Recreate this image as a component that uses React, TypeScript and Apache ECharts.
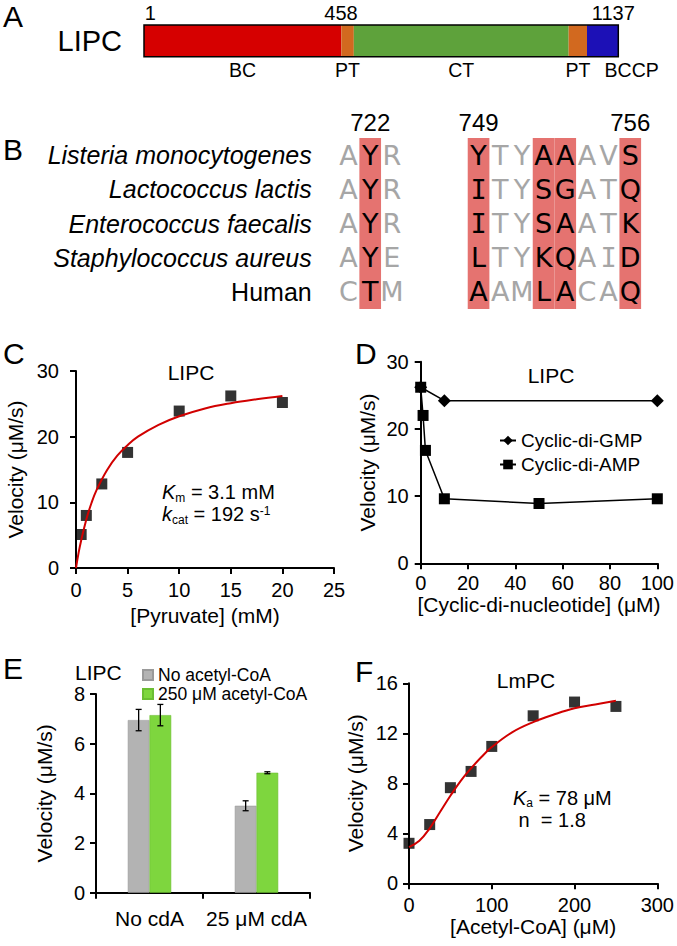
import React, { useEffect, useRef } from "react";
import * as echarts from "echarts";

const FONT = "'Liberation Sans', Arial, Helvetica, sans-serif";

// ---------- Panel A: domain architecture ----------
const proteinName = "LIPC";
const domainNames = ["BC", "PT", "CT", "PT", "BCCP"];
const domainEnds = [473, 503, 1018, 1062, 1137];
const domainColors = ["#D60000", "#D2691F", "#5EA23B", "#D2691F", "#1C10B6"];
const residueMarks = [1, 458, 1137];

// ---------- Panel B: alignment ----------
const speciesNames = [
  "Listeria monocytogenes",
  "Lactococcus lactis",
  "Enterococcus faecalis",
  "Staphylococcus aureus",
  "Human",
];
const speciesItalic = [true, true, true, true, false];
const motif1 = ["AYR", "AYR", "AYR", "AYE", "CTM"];
const motif2 = ["YTYAAAVS", "ITYSGATQ", "ITYSAATK", "LTYKQAID", "AAMLACAQ"];
const motif1First = 721;
const motif2First = 749;
const motif1Conserved = [1];
const motif2Conserved = [0, 3, 4, 7];
const labelledResidues = [722, 749, 756];

// ---------- Panel C ----------
const pyruvateMM = [0.5, 1, 2.5, 5, 10, 15, 20];
const velocityPyruvate = [5.1, 8.0, 12.8, 17.6, 23.9, 26.2, 25.2];
const pyruvateFitX = [0, 0.25, 0.5, 1, 1.5, 2, 3, 4, 5, 6, 8, 10, 12.5, 15, 17.5, 20];
const pyruvateFitY = [0, 2.3, 4.2, 7.4, 9.9, 11.9, 14.9, 17.1, 18.7, 20.0, 21.8, 23.1, 24.3, 25.1, 25.7, 26.2];

// ---------- Panel D ----------
const cdgConc = [0, 10, 100];
const cdgVelocity = [26.2, 24.2, 24.2];
const cdaConc = [0, 1, 2, 10, 50, 100];
const cdaVelocity = [26.2, 22.0, 16.8, 9.6, 8.9, 9.6];

// ---------- Panel E ----------
const conditions = ["No cdA", "25 μM cdA"];
const noAcetylCoA = [6.95, 3.5];
const noAcetylCoAErr = [0.43, 0.2];
const withAcetylCoA = [7.15, 4.83];
const withAcetylCoAErr = [0.43, 0.04];

// ---------- Panel F ----------
const acetylCoAuM = [0, 25, 50, 75, 100, 150, 200, 250];
const velocityAcetylCoA = [3.2, 4.7, 7.65, 8.95, 10.95, 13.4, 14.5, 14.15];
const acetylFitX = [0, 12.5, 25, 37.5, 50, 62.5, 75, 87.5, 100, 125, 150, 175, 200, 225, 250];
const acetylFitY = [2.9, 3.4, 4.4, 5.7, 7.0, 8.2, 9.2, 10.1, 10.9, 12.1, 12.9, 13.5, 14.0, 14.3, 14.6];

const zip = (a: number[], b: number[]) => a.map((v, i) => [v, b[i]]);

function buildOption() {
  // ---- Panel B derived layout ----
  const GAP_COLS = 3;
  const len1 = motif1[0].length;
  const nCols = len1 + GAP_COLS + motif2[0].length;
  const col1 = (i: number) => i;
  const col2 = (i: number) => len1 + GAP_COLS + i;
  const hl = new Set<number>([...motif1Conserved.map(col1), ...motif2Conserved.map(col2)]);
  const colLabels: string[] = new Array(nCols).fill("");
  labelledResidues.forEach((r) => {
    if (r - motif1First >= 0 && r - motif1First < len1) colLabels[col1(r - motif1First)] = String(r);
    else colLabels[col2(r - motif2First)] = String(r);
  });
  const colIds = colLabels.map((_, i) => "c" + i);
  const letterData: any[] = [];
  speciesNames.forEach((_, row) => {
    const seq = motif1[row] + " ".repeat(GAP_COLS) + motif2[row];
    seq.split("").forEach((ch, col) => {
      if (ch === " ") return;
      letterData.push({
        value: [col, row],
        label: {
          formatter: ch,
          color: hl.has(col) ? "#000" : "#A6A6A6",
          fontFamily: ch === "I" ? "DejaVu Sans Mono" : "DejaVu Sans",
        },
      });
    });
  });
  const hlData = colIds.map((_, i) => (hl.has(i) ? 1 : "-"));

  const axisBase = (labelMargin: number) => ({
    axisLine: { show: true, onZero: false, lineStyle: { color: "#000", width: 2 } },
    axisTick: { show: true, length: 6, lineStyle: { color: "#000", width: 2 } },
    axisLabel: { color: "#000", fontSize: 20, fontFamily: FONT, margin: labelMargin },
    splitLine: { show: false },
    nameLocation: "middle",
    nameTextStyle: { color: "#000", fontSize: 21, fontFamily: FONT },
  });

  const txt = (text: string, x: number, y: number, size: number, o: any = {}) => ({
    type: "text",
    x,
    y,
    silent: true,
    style: {
      text,
      fontSize: size,
      fontFamily: o.family || FONT,
      fontStyle: o.italic ? "italic" : "normal",
      fill: "#000",
      align: o.align || "left",
      verticalAlign: "middle",
    },
  });

  // two-line rich text with italic symbol, subscript and superscript
  const richRules = (lh: number) => ({
    it: { fontSize: 20, fontStyle: "italic", fontFamily: FONT, color: "#000", lineHeight: lh },
    sub: { fontSize: 12, fontFamily: FONT, color: "#000", padding: [12, 0, 0, 0], lineHeight: lh },
    sub2: { fontSize: 12, fontFamily: FONT, color: "#000", padding: [10, 0, 0, 0], lineHeight: lh },
    sup: { fontSize: 12, fontFamily: FONT, color: "#000", padding: [0, 0, 6, 0], lineHeight: lh },
    t: { fontSize: 20, fontFamily: FONT, color: "#000", lineHeight: lh },
  });
  const rtxt = (text: string, x: number, y: number, lh: number) => ({
    type: "text",
    x,
    y,
    silent: true,
    style: {
      text,
      rich: richRules(lh),
      fontSize: 20,
      lineHeight: lh,
      fontFamily: FONT,
      fill: "#000",
      align: "left",
      verticalAlign: "middle",
    },
  });

  const markOffsets = [[6, 0], [6, 0], [-5, 0]];

  const domainSeries = domainNames.map((name, i) => ({
    type: "bar",
    name: "dom" + i,
    xAxisIndex: 0,
    yAxisIndex: 0,
    stack: "domains",
    barWidth: "100%",
    silent: true,
    data: [domainEnds[i] - (i ? domainEnds[i - 1] : 0)],
    itemStyle: { color: domainColors[i] },
    label: {
      show: true,
      position: "bottom",
      distance: 3,
      formatter: name,
      color: "#000",
      fontSize: 19.5,
      fontFamily: FONT,
      offset: i === domainNames.length - 1 ? [29, 0] : [0, 0],
    },
  }));

  const barW = 21.7;
  const errSeries = (vals: number[], errs: number[], side: number) => ({
    type: "custom",
    xAxisIndex: 4,
    yAxisIndex: 5,
    silent: true,
    z: 5,
    data: vals.map((v, i) => [i, v, errs[i]]),
    renderItem: (params: any, api: any) => {
      const cat = api.value(0);
      const v = api.value(1);
      const e = api.value(2);
      const hi = api.coord([cat, v + e]);
      const lo = api.coord([cat, v - e]);
      const x = hi[0] + (side * barW) / 2;
      const st = { stroke: "#000", lineWidth: 1.3 };
      return {
        type: "group",
        children: [
          { type: "line", shape: { x1: x, y1: hi[1], x2: x, y2: lo[1] }, style: st },
          { type: "line", shape: { x1: x - 3, y1: hi[1], x2: x + 3, y2: hi[1] }, style: st },
          { type: "line", shape: { x1: x - 3, y1: lo[1], x2: x + 3, y2: lo[1] }, style: st },
        ],
      };
    },
  });

  return {
    animation: false,
    backgroundColor: "#fff",
    textStyle: { fontFamily: FONT },
    grid: [
      { left: 144, top: 25, width: 474.3, height: 31.7, show: true, borderColor: "#000", borderWidth: 1.5, backgroundColor: "transparent", z: 3 },
      { left: 337.7, top: 138, width: 303.4, height: 171 },
      { left: 76, top: 371, width: 258, height: 197 },
      { left: 420.7, top: 361.7, width: 239.3, height: 201.6 },
      { left: 96, top: 694, width: 214, height: 198.7 },
      { left: 409, top: 683.3, width: 251, height: 200 },
    ],
    xAxis: [
      { type: "value", gridIndex: 0, min: 0, max: 1137, show: false },
      {
        type: "category",
        gridIndex: 1,
        position: "top",
        data: colIds,
        axisLine: { show: false },
        axisTick: { show: false },
        axisLabel: {
          interval: 0,
          margin: 4,
          color: "#000",
          fontSize: 24,
          fontFamily: FONT,
          formatter: (_v: string, i: number) => colLabels[i],
        },
      },
      { type: "value", gridIndex: 2, min: 0, max: 25, interval: 5, name: "[Pyruvate] (mM)", nameGap: 37, ...axisBase(12) },
      { type: "value", gridIndex: 3, min: 0, max: 100, interval: 20, name: "[Cyclic-di-nucleotide] (μM)", nameGap: 27, ...axisBase(10) },
      {
        type: "category",
        gridIndex: 4,
        data: conditions,
        ...axisBase(15),
        axisLabel: { color: "#000", fontSize: 21, fontFamily: FONT, margin: 15, interval: 0 },
        axisTick: { show: true, length: 6, alignWithLabel: false, lineStyle: { color: "#000", width: 2 } },
      },
      { type: "value", gridIndex: 5, min: 0, max: 300, interval: 100, name: "[Acetyl-CoA] (μM)", nameGap: 29, ...axisBase(12) },
    ],
    yAxis: [
      {
        type: "category",
        gridIndex: 0,
        data: [proteinName],
        axisLine: { show: false },
        axisTick: { show: false },
        axisLabel: { color: "#000", fontSize: 29, fontFamily: FONT, margin: 22, padding: [6, 0, 0, 0] },
      },
      {
        type: "category",
        gridIndex: 1,
        inverse: true,
        data: speciesNames,
        axisLine: { show: false },
        axisTick: { show: false },
        axisLabel: {
          interval: 0,
          margin: 26,
          formatter: (v: string, i: number) => (speciesItalic[i] ? "{it|" + v + "}" : "{n|" + v + "}"),
          rich: {
            it: { fontStyle: "italic", fontSize: 25, fontFamily: FONT, color: "#000" },
            n: { fontSize: 25, fontFamily: FONT, color: "#000" },
          },
        },
      },
      { type: "value", gridIndex: 1, min: 0, max: 1, show: false },
      { type: "value", gridIndex: 2, min: 0, max: 30, interval: 10, name: "Velocity (μM/s)", nameGap: 50, ...axisBase(17) },
      { type: "value", gridIndex: 3, min: 0, max: 30, interval: 10, name: "Velocity (μM/s)", nameGap: 43, ...axisBase(12) },
      { type: "value", gridIndex: 4, min: 0, max: 8, interval: 2, name: "Velocity (μM/s)", nameGap: 41, ...axisBase(11) },
      { type: "value", gridIndex: 5, min: 0, max: 16, interval: 4, name: "Velocity (μM/s)", nameGap: 43, ...axisBase(11) },
    ],
    legend: [
      {
        data: ["Cyclic-di-GMP", "Cyclic-di-AMP"],
        orient: "vertical",
        left: 494,
        top: 426,
        itemWidth: 16,
        itemHeight: 12,
        itemGap: 5,
        textStyle: { color: "#000", fontSize: 19, fontFamily: FONT },
      },
      {
        data: ["No acetyl-CoA", "250 μM acetyl-CoA"],
        orient: "vertical",
        left: 137,
        top: 661,
        icon: "rect",
        itemWidth: 10,
        itemHeight: 10,
        itemGap: 1,
        textStyle: { color: "#000", fontSize: 17.5, fontFamily: FONT },
      },
    ],
    series: [
      ...domainSeries,
      {
        type: "scatter",
        xAxisIndex: 0,
        yAxisIndex: 0,
        silent: true,
        symbolSize: 0,
        itemStyle: { color: "#000" },
        z: 6,
        data: residueMarks.map((r, i) => ({
          value: [r, proteinName],
          label: { offset: markOffsets[i] },
        })),
        label: {
          show: true,
          position: "top",
          distance: 18,
          color: "#000",
          opacity: 1,
          fontSize: 20,
          fontFamily: FONT,
          formatter: (p: any) => String(p.value[0]),
        },
      },
      // Panel B highlights and letters
      {
        type: "bar",
        xAxisIndex: 1,
        yAxisIndex: 2,
        silent: true,
        barWidth: "100%",
        data: hlData,
        itemStyle: { color: "#E57370" },
      },
      {
        type: "scatter",
        xAxisIndex: 1,
        yAxisIndex: 1,
        silent: true,
        symbolSize: 0,
        itemStyle: { color: "#000" },
        z: 6,
        data: letterData,
        label: { show: true, position: "inside", fontSize: 27, opacity: 1 },
      },
      // Panel C
      {
        type: "line",
        xAxisIndex: 2,
        yAxisIndex: 3,
        silent: true,
        data: zip(pyruvateFitX, pyruvateFitY),
        smooth: 0.4,
        symbol: "none",
        lineStyle: { color: "#D10000", width: 2 },
      },
      {
        type: "scatter",
        xAxisIndex: 2,
        yAxisIndex: 3,
        silent: true,
        symbol: "rect",
        symbolSize: 11,
        data: zip(pyruvateMM, velocityPyruvate),
        itemStyle: { color: "#000" },
      },
      // Panel D
      {
        type: "line",
        name: "Cyclic-di-GMP",
        xAxisIndex: 3,
        yAxisIndex: 4,
        silent: true,
        data: zip(cdgConc, cdgVelocity),
        symbol: "diamond",
        symbolSize: 13,
        lineStyle: { color: "#000", width: 1.5 },
        itemStyle: { color: "#000" },
      },
      {
        type: "line",
        name: "Cyclic-di-AMP",
        xAxisIndex: 3,
        yAxisIndex: 4,
        silent: true,
        data: zip(cdaConc, cdaVelocity),
        symbol: "rect",
        symbolSize: 11,
        lineStyle: { color: "#000", width: 1.5 },
        itemStyle: { color: "#000" },
      },
      // Panel E
      {
        type: "bar",
        name: "No acetyl-CoA",
        xAxisIndex: 4,
        yAxisIndex: 5,
        silent: true,
        barWidth: barW,
        barGap: "0%",
        data: noAcetylCoA,
        itemStyle: { color: "#B3B3B3", borderColor: "#9A9A9A", borderWidth: 0.6 },
      },
      {
        type: "bar",
        name: "250 μM acetyl-CoA",
        xAxisIndex: 4,
        yAxisIndex: 5,
        silent: true,
        barWidth: barW,
        barGap: "0%",
        data: withAcetylCoA,
        itemStyle: { color: "#7ED63E", borderColor: "#6BBE33", borderWidth: 0.6 },
      },
      errSeries(noAcetylCoA, noAcetylCoAErr, -1),
      errSeries(withAcetylCoA, withAcetylCoAErr, 1),
      // Panel F
      {
        type: "line",
        xAxisIndex: 5,
        yAxisIndex: 6,
        silent: true,
        data: zip(acetylFitX, acetylFitY),
        smooth: 0.4,
        symbol: "none",
        lineStyle: { color: "#D10000", width: 2 },
      },
      {
        type: "scatter",
        xAxisIndex: 5,
        yAxisIndex: 6,
        silent: true,
        symbol: "rect",
        symbolSize: 11,
        data: zip(acetylCoAuM, velocityAcetylCoA),
        itemStyle: { color: "#000" },
      },
    ],
    graphic: [
      txt("A", 3, 16, 30),
      txt("B", 3, 149, 30),
      txt("C", 3, 353, 30),
      txt("D", 355, 353, 30),
      txt("E", 3, 668, 30),
      txt("F", 355, 671, 30),
      txt("LIPC", 191, 372, 21, { align: "center" }),
      txt("LIPC", 551, 375, 21, { align: "center" }),
      txt("LIPC", 75, 672, 21),
      txt("LmPC", 526, 680, 21, { align: "center" }),
      // Km / kcat
      rtxt("{it|K}{sub|m}{t| = 3.1 mM}\n{it|k}{sub|cat}{t| = 192 s}{sup|-1}", 162, 503, 22),
      // Ka / n
      rtxt("{it|K}{sub2|a}{t| = 78 μM}\n{t| n  = 1.8}", 513, 809, 22),
    ],
  };
}

export default function App() {
  const ref = useRef<HTMLDivElement>(null);
  useEffect(() => {
    document.body.style.margin = "0";
    if (!ref.current) return;
    const chart = echarts.init(ref.current, undefined, { renderer: "svg" });
    chart.setOption(buildOption() as any);
    return () => chart.dispose();
  }, []);
  return <div ref={ref} style={{ width: 677, height: 946, background: "#fff" }} />;
}
